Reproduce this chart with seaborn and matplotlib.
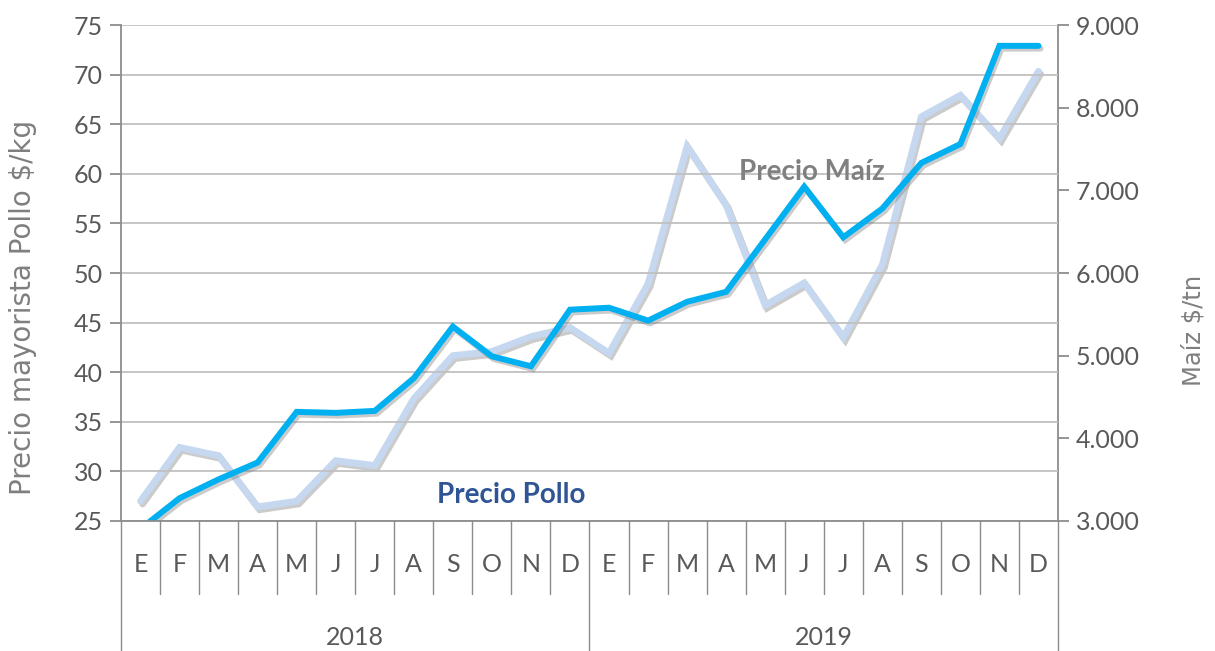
import pandas as pd
import matplotlib
matplotlib.use("Agg")
from matplotlib import pyplot as plt
from matplotlib import patheffects as pe
from matplotlib import transforms
import seaborn as sns

# data
meses = ["E", "F", "M", "A", "M", "J", "J", "A", "S", "O", "N", "D"]
anios = ["2018", "2019"]
pollo = [24.2, 27.3, 29.2, 30.9, 36.0, 35.9, 36.1, 39.4, 44.6, 41.6, 40.6, 46.3,
         46.5, 45.2, 47.1, 48.1, 53.4, 58.7, 53.6, 56.5, 61.1, 63.0, 72.9, 72.9]
maiz = [3240, 3890, 3790, 3170, 3240, 3730, 3670, 4480, 5000, 5050, 5230, 5340,
        5030, 5870, 7530, 6820, 5610, 5880, 5220, 6100, 7890, 8150, 7630, 8440]
pollo_ticks = [25, 30, 35, 40, 45, 50, 55, 60, 65, 70, 75]
maiz_ticks = [3000, 4000, 5000, 6000, 7000, 8000, 9000]

AZUL = "#00B0F0"
CELESTE = "#C6D8EF"
GRIS_TXT = "#595959"
GRIS_TIT = "#7F7F7F"
GRIS_EJE = "#8C8C8C"
GRIS_GRID = "#C0C0C0"


def save_fig(path):
    plt.savefig(path, dpi=100)
    plt.close()


def main():
    sns.set_style("white")
    plt.rcParams['font.family'] = ['Lato', 'DejaVu Sans']

    df = pd.DataFrame({
        "idx": range(len(pollo)),
        "pollo": pollo,
        "maiz": maiz,
    })

    fig = plt.figure(figsize=(12.15, 6.51))
    ax = fig.add_axes([121 / 1215, 1 - 521 / 651, (1058 - 121) / 1215, 496 / 651])
    ax2 = ax.twinx()

    shadow = [pe.SimpleLineShadow(offset=(1.5, -2), shadow_color="#7F7F7F", alpha=0.4),
              pe.Normal()]

    # maiz line first (behind), on secondary axis
    sns.lineplot(data=df, x="idx", y="maiz", ax=ax2, color=CELESTE, linewidth=4.9,
                 path_effects=shadow, solid_joinstyle="miter")
    ax2.set_ylim(3000, 9000)
    ax2.set_zorder(1)
    ax.set_zorder(2)
    ax.patch.set_visible(False)

    sns.lineplot(data=df, x="idx", y="pollo", ax=ax, color=AZUL, linewidth=4.3,
                 path_effects=shadow, solid_joinstyle="miter", solid_capstyle="round",
                 clip_on=True)
    ax.set_ylim(25, 75)
    ax.set_xlim(-0.5, len(pollo) - 0.5)

    # grid
    for v in pollo_ticks:
        ax.axhline(v, color=GRIS_GRID, lw=1.3, zorder=0)

    ax.set_yticks(pollo_ticks)
    ax2.set_yticks(maiz_ticks)
    ax2.set_yticklabels([f"{v:,}".replace(",", ".") for v in maiz_ticks])
    ax.set_xticks([])
    ax2.set_xticks([])
    ax.set_xlabel("")
    ax2.set_xlabel("")

    for a in (ax, ax2):
        for s in a.spines.values():
            s.set_visible(False)
    ax.spines["left"].set_visible(True)
    ax.spines["left"].set_color(GRIS_EJE)
    ax.spines["left"].set_linewidth(1.3)
    ax2.spines["right"].set_visible(True)
    ax2.spines["right"].set_color(GRIS_EJE)
    ax2.spines["right"].set_linewidth(1.3)

    ax.tick_params(axis="y", direction="out", length=8, width=1.3, color=GRIS_EJE,
                   labelsize=18, labelcolor=GRIS_TXT, pad=5, left=True)
    ax2.tick_params(axis="y", direction="out", length=8, width=1.3, color=GRIS_EJE,
                    labelsize=18, labelcolor=GRIS_TXT, pad=5, right=True)

    ax.set_ylabel("Precio mayorista Pollo $/kg", fontsize=20, color=GRIS_TIT,
                  family=["DejaVu Sans"])
    ax.yaxis.set_label_coords(-0.090, 0.43)
    ax2.set_ylabel("Maíz $/tn", fontsize=17.5, color=GRIS_TIT, rotation=90,
                   family=["DejaVu Sans"])
    ax2.yaxis.set_label_coords(1.132, 0.385)

    # category axis drawn below the plot
    tr = transforms.blended_transform_factory(ax.transData, ax.transAxes)
    n = len(pollo)
    ax.plot([-0.5, n - 0.5], [0, 0], color=GRIS_EJE, lw=1.3, transform=tr, clip_on=False)
    for i in range(n + 1):
        x = i - 0.5
        bottom = -0.262 if i % 12 == 0 else -0.147
        ax.plot([x, x], [0, bottom], color=GRIS_EJE, lw=1.0, transform=tr, clip_on=False)
    for i in range(n):
        ax.text(i, -0.088, meses[i % 12], transform=tr, ha="center", va="center",
                fontsize=18, color=GRIS_TXT)
    for j, anio in enumerate(anios):
        ax.text(j * 12 + 5.5, -0.235, anio, transform=tr, ha="center", va="center",
                fontsize=18, color=GRIS_TXT)

    # series labels
    ax.text(17.2, 60.2, "Precio Maíz", fontsize=20, fontweight="bold", color="#808080",
            ha="center", va="center", zorder=5)
    ax.text(9.5, 27.6, "Precio Pollo", fontsize=20, fontweight="bold", color="#2F5597",
            ha="center", va="center", zorder=5)

    save_fig("out.png")


if __name__ == "__main__":
    main()
